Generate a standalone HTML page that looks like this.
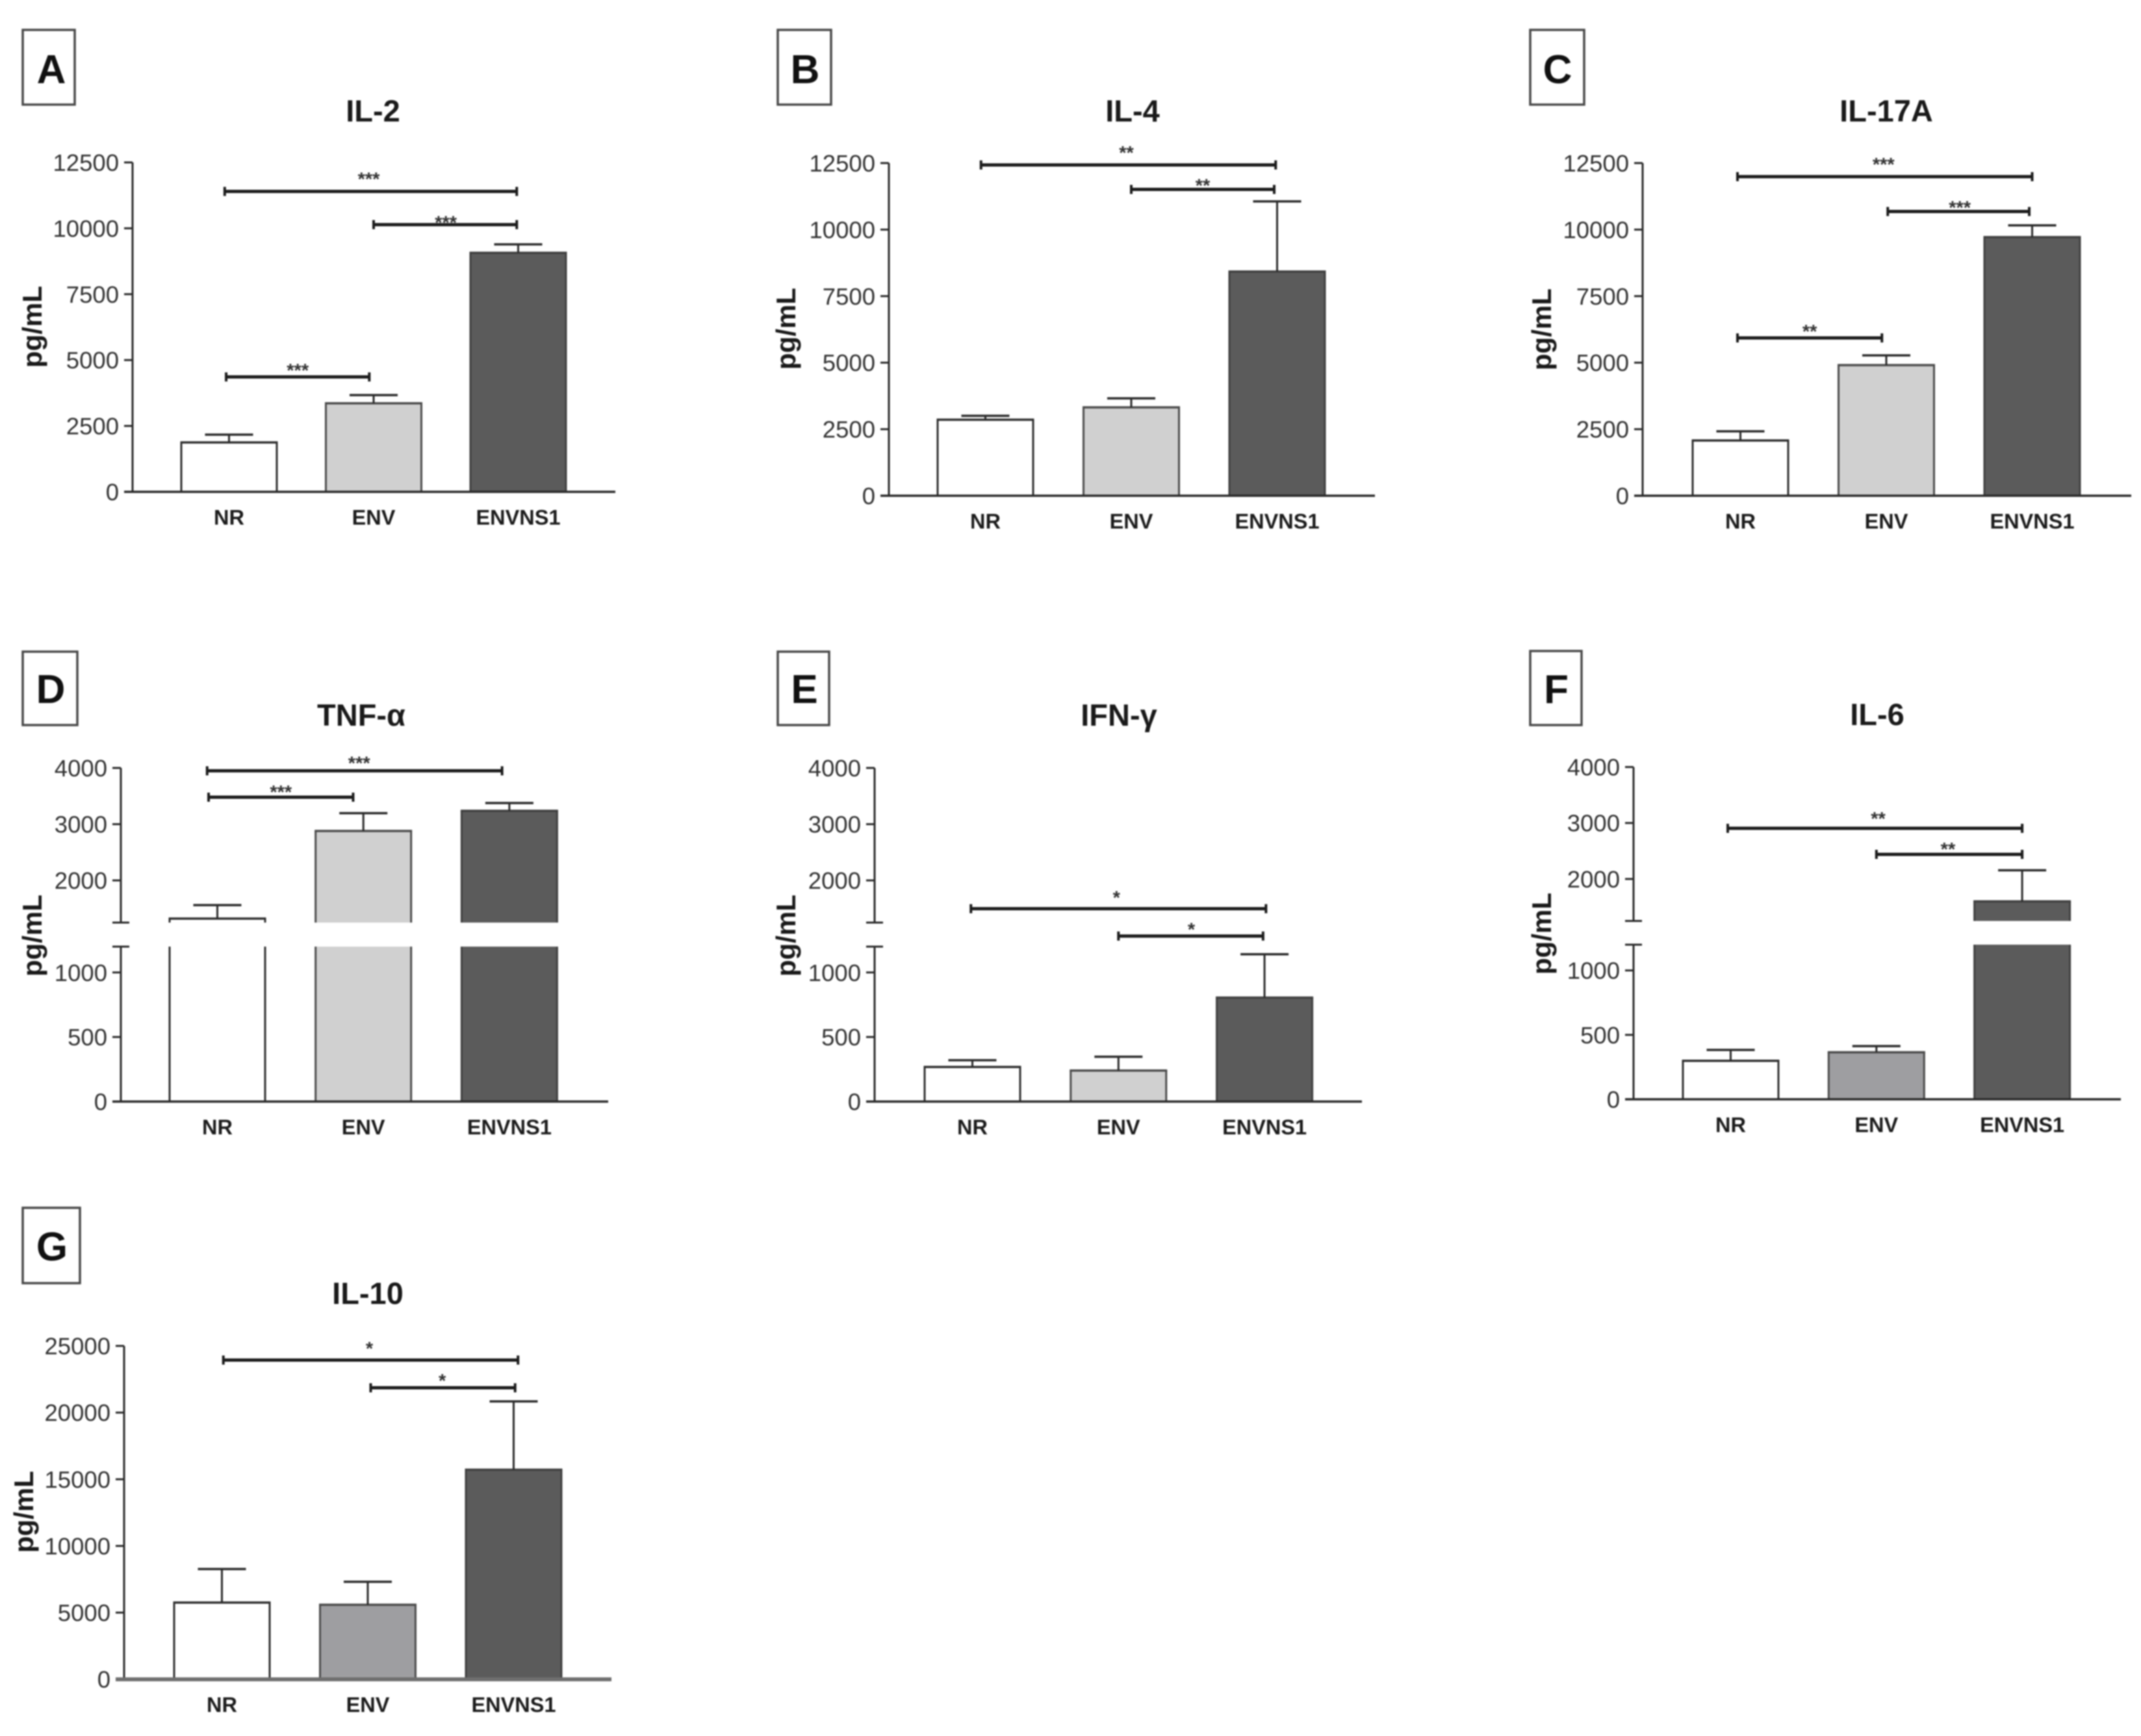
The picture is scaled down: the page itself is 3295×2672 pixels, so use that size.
<!DOCTYPE html>
<html lang="en">
<head>
<meta charset="utf-8">
<title>Cytokine levels by group</title>
<style>
html,body{margin:0;padding:0;background:#fff;}
svg{display:block;filter:blur(1px);}
text{font-family:"Liberation Sans",Arial,sans-serif;}
</style>
</head>
<body>
<svg id="figure" xmlns="http://www.w3.org/2000/svg" width="3295" height="2672" viewBox="0 0 3295 2672"></svg>
<script>
const categories = ['NR', 'ENV', 'ENVNS1'];

const il2Means = [1875, 3360, 9070];
const il2Errors = [295, 310, 320];
const il2Ticks = [0, 2500, 5000, 7500, 10000, 12500];
const il2BracketFrom = [-0.03, 1.0, -0.02];
const il2BracketTo = [1.99, 1.99, 0.97];
const il2BracketLevels = [11400, 10140, 4360];
const il2BracketStars = ['***', '***', '***'];

const il4Means = [2856, 3320, 8423];
const il4Errors = [147, 340, 2637];
const il4Ticks = [0, 2500, 5000, 7500, 10000, 12500];
const il4BracketFrom = [-0.03, 1.0];
const il4BracketTo = [1.99, 1.98];
const il4BracketLevels = [12430, 11510];
const il4BracketStars = ['**', '**'];

const il17Means = [2075, 4907, 9717];
const il17Errors = [345, 366, 443];
const il17Ticks = [0, 2500, 5000, 7500, 10000, 12500];
const il17BracketFrom = [-0.02, 1.01, -0.02];
const il17BracketTo = [2.0, 1.98, 0.97];
const il17BracketLevels = [11990, 10680, 5930];
const il17BracketStars = ['***', '***', '**'];

const tnfMeans = [1321, 2879, 3237];
const tnfErrors = [240, 316, 139];
const tnfTicks = [0, 500, 1000, 2000, 3000, 4000];
const tnfBracketFrom = [-0.07, -0.06];
const tnfBracketTo = [1.95, 0.93];
const tnfBracketLevels = [3949, 3480];
const tnfBracketStars = ['***', '***'];

const ifnMeans = [268, 240, 805];
const ifnErrors = [52, 107, 336];
const ifnTicks = [0, 500, 1000, 2000, 3000, 4000];
const ifnBracketFrom = [-0.01, 1.0];
const ifnBracketTo = [2.01, 1.99];
const ifnBracketLevels = [1497, 1222];
const ifnBracketStars = ['*', '*'];

const il6Means = [299, 365, 1600];
const il6Errors = [84, 48, 555];
const il6Ticks = [0, 500, 1000, 2000, 3000, 4000];
const il6BracketFrom = [-0.02, 1.0];
const il6BracketTo = [2.0, 2.0];
const il6BracketLevels = [2905, 2440];
const il6BracketStars = ['**', '**'];

const il10Means = [5750, 5590, 15720];
const il10Errors = [2520, 1720, 5120];
const il10Ticks = [0, 5000, 10000, 15000, 20000, 25000];
const il10BracketFrom = [0.01, 1.02];
const il10BracketTo = [2.03, 2.01];
const il10BracketLevels = [23940, 21860];
const il10BracketStars = ['*', '*'];

const LIGHT = '#d0d0d0', MID = '#9e9ea1', DARK = '#5b5b5b';

const panels = [
  {id:'a', letter:'A', title:'IL-2', means:il2Means, errors:il2Errors, ticks:il2Ticks, from:il2BracketFrom, to:il2BracketTo, levels:il2BracketLevels, stars:il2BracketStars,
   max:12500, box:[35,46,115,161], letterX:79, letterY:106, titleX:574, titleY:171, axisX:204, xEnd:947, yZero:757, yTop:250, firstBar:279, step:222.5,
   labelX:54, labelY:503, starDx:[-3,1,0], starDy:[-24,-8,-15], fill:LIGHT},
  {id:'b', letter:'B', title:'IL-4', means:il4Means, errors:il4Errors, ticks:il4Ticks, from:il4BracketFrom, to:il4BracketTo, levels:il4BracketLevels, stars:il4BracketStars,
   max:12500, box:[1197,46,1279,161], letterX:1239, letterY:106, titleX:1743, titleY:171, axisX:1368, xEnd:2116, yZero:763, yTop:251, firstBar:1443, step:224.5,
   labelX:1214, labelY:506, starDx:[-3,0], starDy:[-24,-11], fill:LIGHT},
  {id:'c', letter:'C', title:'IL-17A', means:il17Means, errors:il17Errors, ticks:il17Ticks, from:il17BracketFrom, to:il17BracketTo, levels:il17BracketLevels, stars:il17BracketStars,
   max:12500, box:[2355,46,2438,161], letterX:2397, letterY:106, titleX:2903, titleY:171, axisX:2528, xEnd:3280, yZero:763, yTop:251, firstBar:2605, step:224.5,
   labelX:2377, labelY:507, starDx:[-2,2,0], starDy:[-24,-11,-15], fill:LIGHT},
  {id:'d', letter:'D', title:'TNF-\u03B1', means:tnfMeans, errors:tnfErrors, ticks:tnfTicks, from:tnfBracketFrom, to:tnfBracketTo, levels:tnfBracketLevels, stars:tnfBracketStars,
   max:4000, breakLow:1200, breakHigh:1250, yLowTop:1457, yUpBottom:1420, box:[35,1003,119,1116], letterX:78, letterY:1060, titleX:556, titleY:1101, axisX:186, xEnd:936, yZero:1695.5, yTop:1182, firstBar:261, step:224.7,
   labelX:54, labelY:1440, starDx:[7,0], starDy:[-17,-13], fill:LIGHT},
  {id:'e', letter:'E', title:'IFN-\u03B3', means:ifnMeans, errors:ifnErrors, ticks:ifnTicks, from:ifnBracketFrom, to:ifnBracketTo, levels:ifnBracketLevels, stars:ifnBracketStars,
   max:4000, breakLow:1200, breakHigh:1250, yLowTop:1457, yUpBottom:1420, box:[1197,1003,1276,1116], letterX:1238, letterY:1060, titleX:1722, titleY:1101, axisX:1346, xEnd:2096, yZero:1695.5, yTop:1182, firstBar:1423, step:224.8,
   labelX:1214, labelY:1440, starDx:[-3,1], starDy:[-22,-15], fill:LIGHT},
  {id:'f', letter:'F', title:'IL-6', means:il6Means, errors:il6Errors, ticks:il6Ticks, from:il6BracketFrom, to:il6BracketTo, levels:il6BracketLevels, stars:il6BracketStars,
   max:4000, breakLow:1200, breakHigh:1250, yLowTop:1454, yUpBottom:1417.5, box:[2355,1002,2434,1116], letterX:2395, letterY:1060, titleX:2889, titleY:1100, axisX:2514, xEnd:3264, yZero:1692, yTop:1180.6, firstBar:2590, step:224.3,
   labelX:2377, labelY:1437, starDx:[5,-2], starDy:[-20,-13], fill:MID},
  {id:'g', letter:'G', title:'IL-10', means:il10Means, errors:il10Errors, ticks:il10Ticks, from:il10BracketFrom, to:il10BracketTo, levels:il10BracketLevels, stars:il10BracketStars,
   max:25000, box:[35,1859,123,1975], letterX:80, letterY:1918, titleX:566, titleY:1991, axisX:191, xEnd:941, yZero:2584.7, yTop:2071.6, firstBar:268, step:224.5, baseWidth:6, baseColor:'#6f6f6f',
   labelX:41, labelY:2327, starDx:[-2,-1], starDy:[-23,-16], fill:MID}
];

const BAR_WIDTH = 147, CAP_HALF = 37;
const INK = '#2a2a2a';
const svg = document.getElementById('figure');

function mk(parent, tag, attrs, text) {
  const el = document.createElementNS('http://www.w3.org/2000/svg', tag);
  for (const k in attrs) el.setAttribute(k, attrs[k]);
  if (text !== undefined) el.textContent = text;
  parent.appendChild(el);
  return el;
}

function makeYScale(p) {
  if (p.breakLow === undefined) {
    return v => p.yZero - v * (p.yZero - p.yTop) / p.max;
  }
  return v => {
    if (v <= p.breakLow) return p.yZero - v * (p.yZero - p.yLowTop) / p.breakLow;
    if (v >= p.breakHigh) return p.yUpBottom - (v - p.breakHigh) * (p.yUpBottom - p.yTop) / (p.max - p.breakHigh);
    return p.yLowTop - (v - p.breakLow) * (p.yLowTop - p.yUpBottom) / (p.breakHigh - p.breakLow);
  };
}

function makeXScale(p) {
  return i => p.firstBar + BAR_WIDTH / 2 + i * p.step;
}

function line(parent, x1, y1, x2, y2, width, color) {
  return mk(parent, 'line', {x1: x1, y1: y1, x2: x2, y2: y2, stroke: color || INK, 'stroke-width': width || 3});
}

function drawAxes(g, p, y) {
  const ax = p.axisX, tickL = ax - 13;
  const axis = mk(g, 'g', {});
  
  
  if (p.breakLow === undefined) {
    line(axis, ax, p.yTop, ax, p.yZero);
  } else {
    line(axis, ax, p.yTop, ax, p.yUpBottom);
    line(axis, ax, p.yLowTop, ax, p.yZero);
    line(axis, tickL, p.yUpBottom, ax + 13, p.yUpBottom);
    line(axis, tickL, p.yLowTop, ax + 13, p.yLowTop);
  }
  p.ticks.forEach(t => {
    line(axis, tickL, y(t), ax, y(t));
    const label = mk(axis, 'text', {x: tickL - 8, y: y(t) + 13, 'text-anchor': 'end', 'font-size': 36.5, fill: '#333'}, String(t));
    
    
  });
  const base = line(g, tickL, p.yZero, p.xEnd, p.yZero, p.baseWidth || 3.5, p.baseColor || INK);
  
  
}

function drawBarSegment(g, x, yBottom, yTopEdge, fill, stroke, hasTop) {
  mk(g, 'rect', {x: x, y: yTopEdge, width: BAR_WIDTH, height: yBottom - yTopEdge, fill: fill});
  line(g, x, yBottom, x, yTopEdge, 3, stroke);
  line(g, x + BAR_WIDTH, yBottom, x + BAR_WIDTH, yTopEdge, 3, stroke);
  if (hasTop) line(g, x - 1.5, yTopEdge, x + BAR_WIDTH + 1.5, yTopEdge, 3.5, stroke);
}

function drawBars(g, p, x, y) {
  const fills = ['#ffffff', p.fill, DARK];
  const strokes = ['#2f2f2f', '#4c4c4c', '#404040'];
  p.means.forEach((m, i) => {
    const cx = x(i), left = cx - BAR_WIDTH / 2;
    const top = m + p.errors[i];
    const bar = mk(g, 'g', {});
    
    
    const err = mk(g, 'g', {});
    
    
    line(err, cx, y(m), cx, y(top), 3);
    line(err, cx - CAP_HALF, y(top), cx + CAP_HALF, y(top), 3.5);
    if (p.breakLow === undefined) {
      drawBarSegment(bar, left, p.yZero, y(m), fills[i], strokes[i], true);
    } else if (m <= p.breakLow) {
      drawBarSegment(bar, left, p.yZero, y(m), fills[i], strokes[i], true);
    } else {
      drawBarSegment(bar, left, p.yZero, y(p.breakLow), fills[i], strokes[i], false);
      drawBarSegment(bar, left, y(p.breakHigh), y(m), fills[i], strokes[i], true);
    }
    const cat = mk(g, 'text', {x: cx, y: p.yZero + 50.5, 'text-anchor': 'middle', 'font-size': 32.5, 'font-weight': 'bold', fill: '#1c1c1c'}, categories[i]);
    
    
  });
}

function drawBrackets(g, p, x, y) {
  p.levels.forEach((lv, i) => {
    const group = mk(g, 'g', {});
    
    
    const cy = y(lv);
    const x1 = x(p.from[i]), x2 = x(p.to[i]);
    line(group, x1, cy, x2, cy, 5, '#1c1c1c');
    line(group, x1, cy - 7, x1, cy + 7, 4, '#1c1c1c');
    line(group, x2, cy - 7, x2, cy + 7, 4, '#1c1c1c');
    const star = mk(group, 'text', {x: (x1 + x2) / 2 + p.starDx[i], y: cy + p.starDy[i] + 15, 'text-anchor': 'middle', 'font-size': 29, 'font-weight': 'bold', fill: '#333'}, p.stars[i]);
    
    
  });
}

panels.forEach(p => {
  const g = mk(svg, 'g', {});
  
  

  const box = mk(g, 'rect', {x: p.box[0], y: p.box[1], width: p.box[2] - p.box[0], height: p.box[3] - p.box[1], fill: 'none', stroke: '#4a4a4a', 'stroke-width': 3.5});
  
  

  const letter = mk(g, 'text', {x: p.letterX, y: p.letterY + 22, 'text-anchor': 'middle', 'font-size': 62, 'font-weight': 'bold', fill: '#111'}, p.letter);
  
  

  const title = mk(g, 'text', {x: p.titleX, y: p.titleY + 16, 'text-anchor': 'middle', 'font-size': 47, 'font-weight': 'bold', fill: '#1a1a1a'}, p.title);
  
  

  const yLabel = mk(g, 'text', {transform: 'translate(' + (p.labelX + 10) + ',' + p.labelY + ') rotate(-90)', 'text-anchor': 'middle', 'font-size': 42, 'font-weight': 'bold', fill: '#1a1a1a'}, 'pg/mL');
  
  

  const y = makeYScale(p);
  const x = makeXScale(p);
  drawBars(g, p, x, y);
  drawAxes(g, p, y);
  drawBrackets(g, p, x, y);
});
</script>
</body>
</html>
